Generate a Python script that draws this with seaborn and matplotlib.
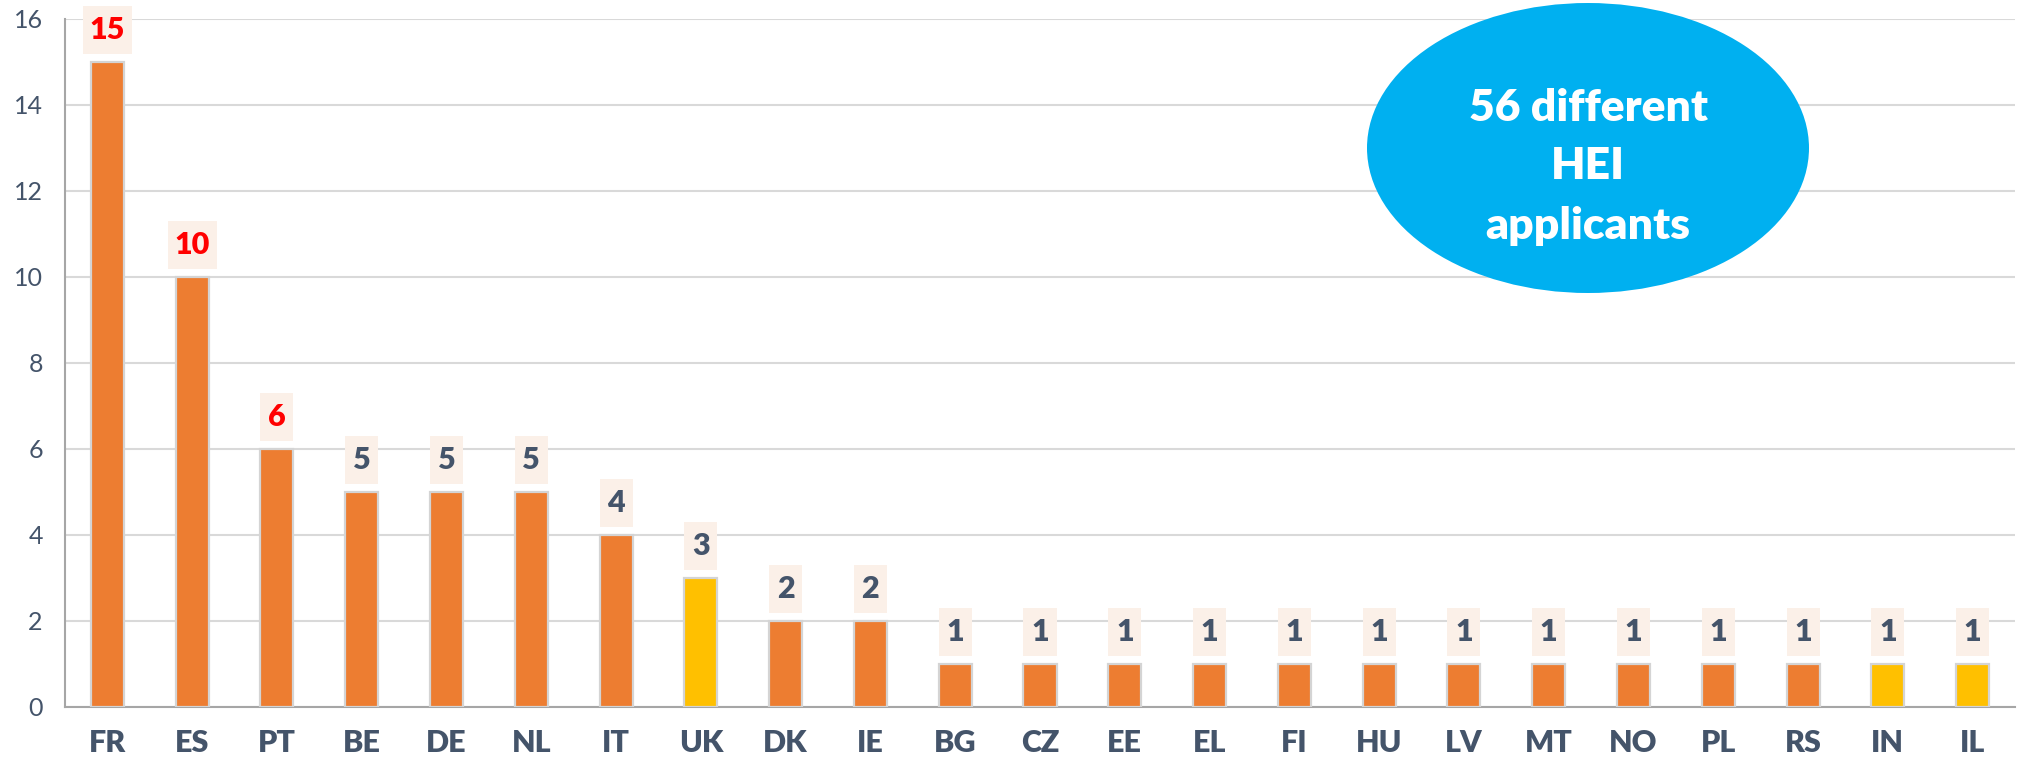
import matplotlib
matplotlib.use('Agg')
import matplotlib.pyplot as plt
from matplotlib.patches import Ellipse, Rectangle
import seaborn as sns
import numpy as np

# Data
countries = ['FR', 'ES', 'PT', 'BE', 'DE', 'NL', 'IT', 'UK', 'DK', 'IE', 'BG', 'CZ',
             'EE', 'EL', 'FI', 'HU', 'LV', 'MT', 'NO', 'PL', 'RS', 'IN', 'IL']
applicants = [15, 10, 6, 5, 5, 5, 4, 3, 2, 2, 1, 1, 1, 1, 1, 1, 1, 1, 1, 1, 1, 1, 1]
non_eu = ['UK', 'IN', 'IL']
top_three = ['FR', 'ES', 'PT']

ORANGE = '#ED7D31'
YELLOW = '#FFC000'
SLATE = '#44546A'

sns.set_theme(style='white')
plt.rcParams['font.family'] = ['Lato', 'DejaVu Sans']

fig = plt.figure(figsize=(20.17, 7.64), dpi=100)
ax = fig.add_axes([65 / 2017, 57 / 764, 1950 / 2017, 688 / 764])

palette = {c: (YELLOW if c in non_eu else ORANGE) for c in countries}
sns.barplot(x=countries, y=applicants, hue=countries, palette=palette, legend=False,
            width=0.39, edgecolor='#D4D4D4', linewidth=1.6, saturation=1, ax=ax, zorder=3)

ax.set_ylim(0, 16)
ax.set_xlim(-0.5, len(countries) - 0.5)
ax.set_yticks(np.arange(0, 17, 2))
ax.yaxis.grid(True, color='#D9D9D9', linewidth=1.5, zorder=0)
ax.xaxis.grid(False)
ax.set_axisbelow(True)

for side in ['top', 'right']:
    ax.spines[side].set_visible(False)
for side in ['left', 'bottom']:
    ax.spines[side].set_color('#A6A6A6')
    ax.spines[side].set_linewidth(1.5)

ax.set_xticks(np.arange(-0.5, len(countries), 1), minor=True)
ax.tick_params(axis='x', which='major', length=0, pad=16, labelsize=22, labelcolor=SLATE)
ax.tick_params(axis='x', which='minor', length=7, width=1.5, color='#A6A6A6', direction='out')
ax.tick_params(axis='y', which='major', length=6, width=1.5, color='#A6A6A6',
               direction='out', pad=10, labelsize=18, labelcolor=SLATE)
for lab in ax.get_xticklabels():
    lab.set_fontweight('heavy')

# value labels in light boxes above the bars (box size follows the digit count)
gap, box_h = 0.19, 1.12
for i, (c, v) in enumerate(zip(countries, applicants)):
    box_w = 0.39 if v < 10 else 0.58
    ax.add_patch(Rectangle((i - box_w / 2, v + gap), box_w, box_h,
                           fc='#FBF0E8', ec='none', zorder=4, clip_on=False))
    ax.text(i, v + gap + box_h / 2, str(v), ha='center', va='center',
            fontsize=22, fontweight='heavy',
            color='#FF0000' if c in top_three else SLATE, zorder=5)

ax.set_xlabel('')
ax.set_ylabel('')

# callout bubble
ell = Ellipse((1588 / 2017, 1 - 148 / 764), 442 / 2017, 290 / 764,
              transform=fig.transFigure, fc='#00B0F0', ec='none', zorder=10)
fig.patches.append(ell)
for txt, ypx in [('56 different', 108), ('HEI', 166), ('applicants', 226)]:
    fig.text(1588 / 2017, 1 - ypx / 764, txt, ha='center', va='center',
             fontsize=32, fontweight='heavy', color='white', zorder=11)

fig.savefig('out.png', dpi=100)
